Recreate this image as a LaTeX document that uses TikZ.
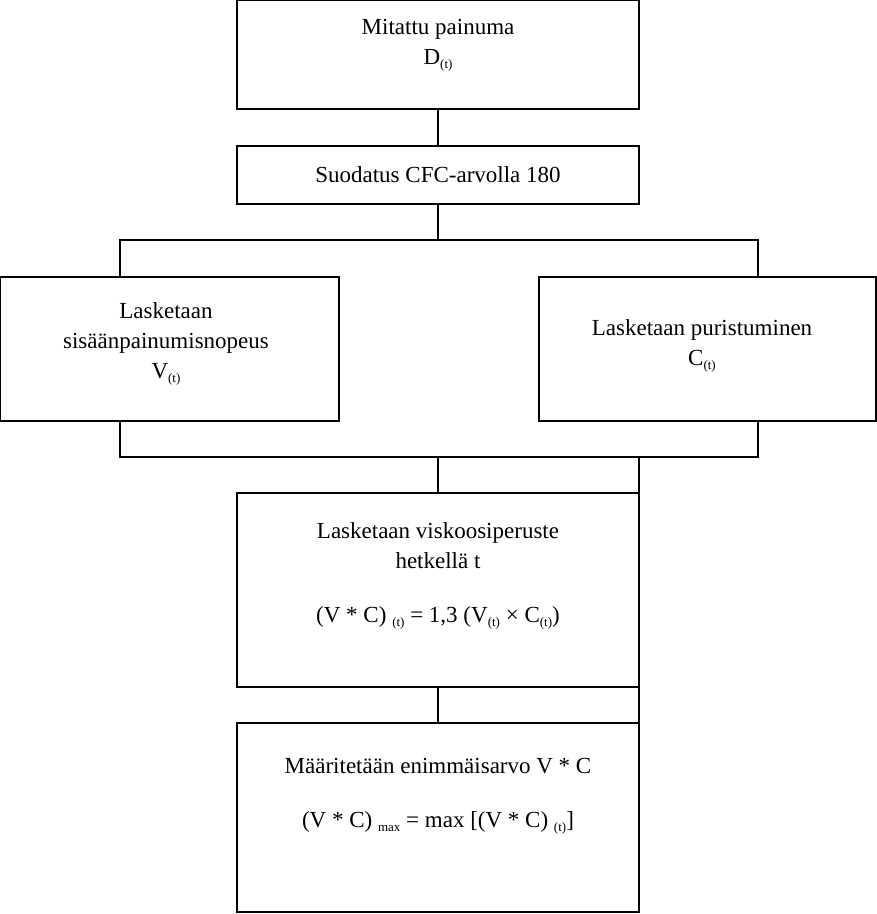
\documentclass[tikz,border=0pt]{standalone}
\usepackage{fontspec}
\setmainfont{Liberation Serif}
\newcommand{\sbt}[1]{\raisebox{-0.4ex}{\fontsize{13}{13}\selectfont #1}}
\begin{document}
\begin{tikzpicture}[x=1pt,y=1pt,
  box/.style={draw, line width=1.3pt, rectangle, inner sep=0pt, outer sep=0pt},
  txt/.style={align=center, font=\fontsize{23}{30}\selectfont, inner sep=0pt},
  ln/.style={line width=1.3pt}]
\useasboundingbox (0,0) rectangle (877,-914);
\fill[white] (0,0) rectangle (877,-914);
% boxes
\node[box, minimum width=402, minimum height=109] (top) at (438,-54.5) {};
\node[box, minimum width=402, minimum height=58] (filt) at (438,-175) {};
\node[box, minimum width=339, minimum height=144] (lbox) at (169.5,-349) {};
\node[box, minimum width=337, minimum height=144] (rbox) at (707.5,-349) {};
\node[box, minimum width=402, minimum height=194] (vbox) at (438,-590) {};
\node[box, minimum width=402, minimum height=189] (mbox) at (438,-817.5) {};
% texts
\node[txt] (t1) at (438,-45) {Mitattu painuma\\ D\sbt{(t)}};
\node[txt] (t2) at (438,-175) {Suodatus CFC-arvolla 180};
\node[txt] (t3) at (166,-344) {Lasketaan\\ sisäänpainumisnopeus\\ V\sbt{(t)}};
\node[txt] (t4) at (702,-346) {Lasketaan puristuminen\\ C\sbt{(t)}};
\node[txt] (t5) at (438,-546) {Lasketaan viskoosiperuste\\ hetkellä t};
\node[txt] (t6) at (438,-618) {(V * C) \sbt{(t)} = 1,3 (V\sbt{(t)} × C\sbt{(t)})};
\node[txt] (t7) at (438,-766) {Määritetään enimmäisarvo V * C};
\node[txt] (t8) at (438,-823) {(V * C) \sbt{max} = max [(V * C) \sbt{(t)}]};
% connector coordinates
\coordinate (busA) at (438,-240);
\coordinate (busAl) at (120,-240);
\coordinate (busAr) at (758,-240);
\coordinate (lt) at (120,-277);
\coordinate (rt) at (758,-277);
\coordinate (lb) at (120,-421);
\coordinate (rb) at (758,-421);
\coordinate (busBl) at (120,-457);
\coordinate (busBr) at (758,-457);
\coordinate (busBm) at (438,-457);
\coordinate (busBe) at (639,-457);
% connectors
\draw[ln] (top.south) -- (filt.north);
\draw[ln] (filt.south) -- (busA);
\draw[ln] (lt) -- (busAl) -- (busAr) -- (rt);
\draw[ln] (lb) -- (busBl) -- (busBr) -- (rb);
\draw[ln] (busBm) -- (vbox.north);
\draw[ln] (busBe) -- (vbox.north east);
\draw[ln] (vbox.south) -- (mbox.north);
\draw[ln] (vbox.south east) -- (mbox.north east);
\end{tikzpicture}
\end{document}
